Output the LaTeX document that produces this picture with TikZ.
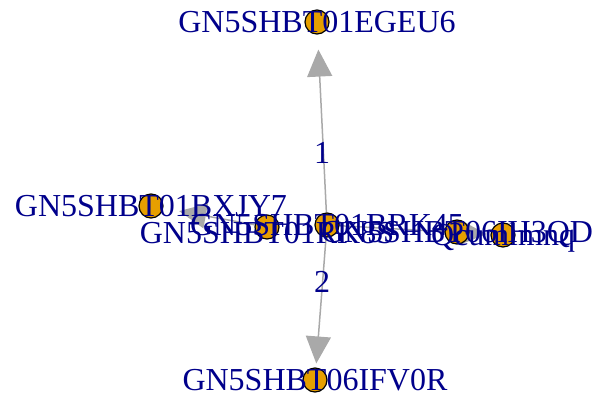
\documentclass[tikz,border=0pt]{standalone}
\usepackage{fontspec}
\setmainfont{Liberation Serif}
\usetikzlibrary{arrows.meta,backgrounds}
\definecolor{nodeorange}{HTML}{E69F00}
\definecolor{labblue}{HTML}{00008B}
\definecolor{edgegray}{HTML}{A9A9A9}
\begin{document}
\begin{tikzpicture}[x=1pt,y=-1pt,
  vert/.style={circle,draw=black,fill=nodeorange,line width=1.2pt,minimum size=24pt,inner sep=0pt},
  lab/.style={text=labblue,font=\fontsize{32}{32}\selectfont,inner sep=0pt,anchor=base,yshift=-10.5pt},
  edgeline/.style={draw=edgegray,line width=1.5pt,-{Triangle[length=27pt,width=25pt]}}]
\useasboundingbox (0,0) rectangle (600,394);
% vertices
\node[vert] (A) at (317,22) {};
\node[vert] (B) at (315,380) {};
\node[vert] (C) at (151,206) {};
\node[vert] (D) at (267,227) {};
\node[vert] (E) at (327,225) {};
\node[vert] (F) at (457,232) {};
\node[vert] (G) at (503,235) {};
% edges
\begin{scope}[on background layer]
\draw[edgeline,shorten >=15pt] (E) -- (A);
\draw[edgeline,shorten >=4pt] (E) -- (B);
\draw[edgeline,shorten >=16pt] (D) -- (C);
\draw[edgeline,shorten >=4pt] (E) -- (G);
\end{scope}
% edge labels
\node[lab] (l1) at (322,153) {1};
\node[lab] (l2) at (322,282) {2};
% vertex labels
\node[lab] (Al) at (A) {GN5SHBT01EGEU6};
\node[lab] (Bl) at (B) {GN5SHBT06IFV0R};
\node[lab] (Cl) at (C) {GN5SHBT01BXJY7};
\node[lab] (Dl) at ([yshift=-6pt]D) {GN5SHBT01RK8S};
\node[lab] (El) at (E) {GN5SHBT01BRK45};
\node[lab] (Fl) at (F) {GN5SHBT06IH3QD};
\node[lab] (Gl) at (G) {Qcumlmnq};
\end{tikzpicture}
\end{document}
